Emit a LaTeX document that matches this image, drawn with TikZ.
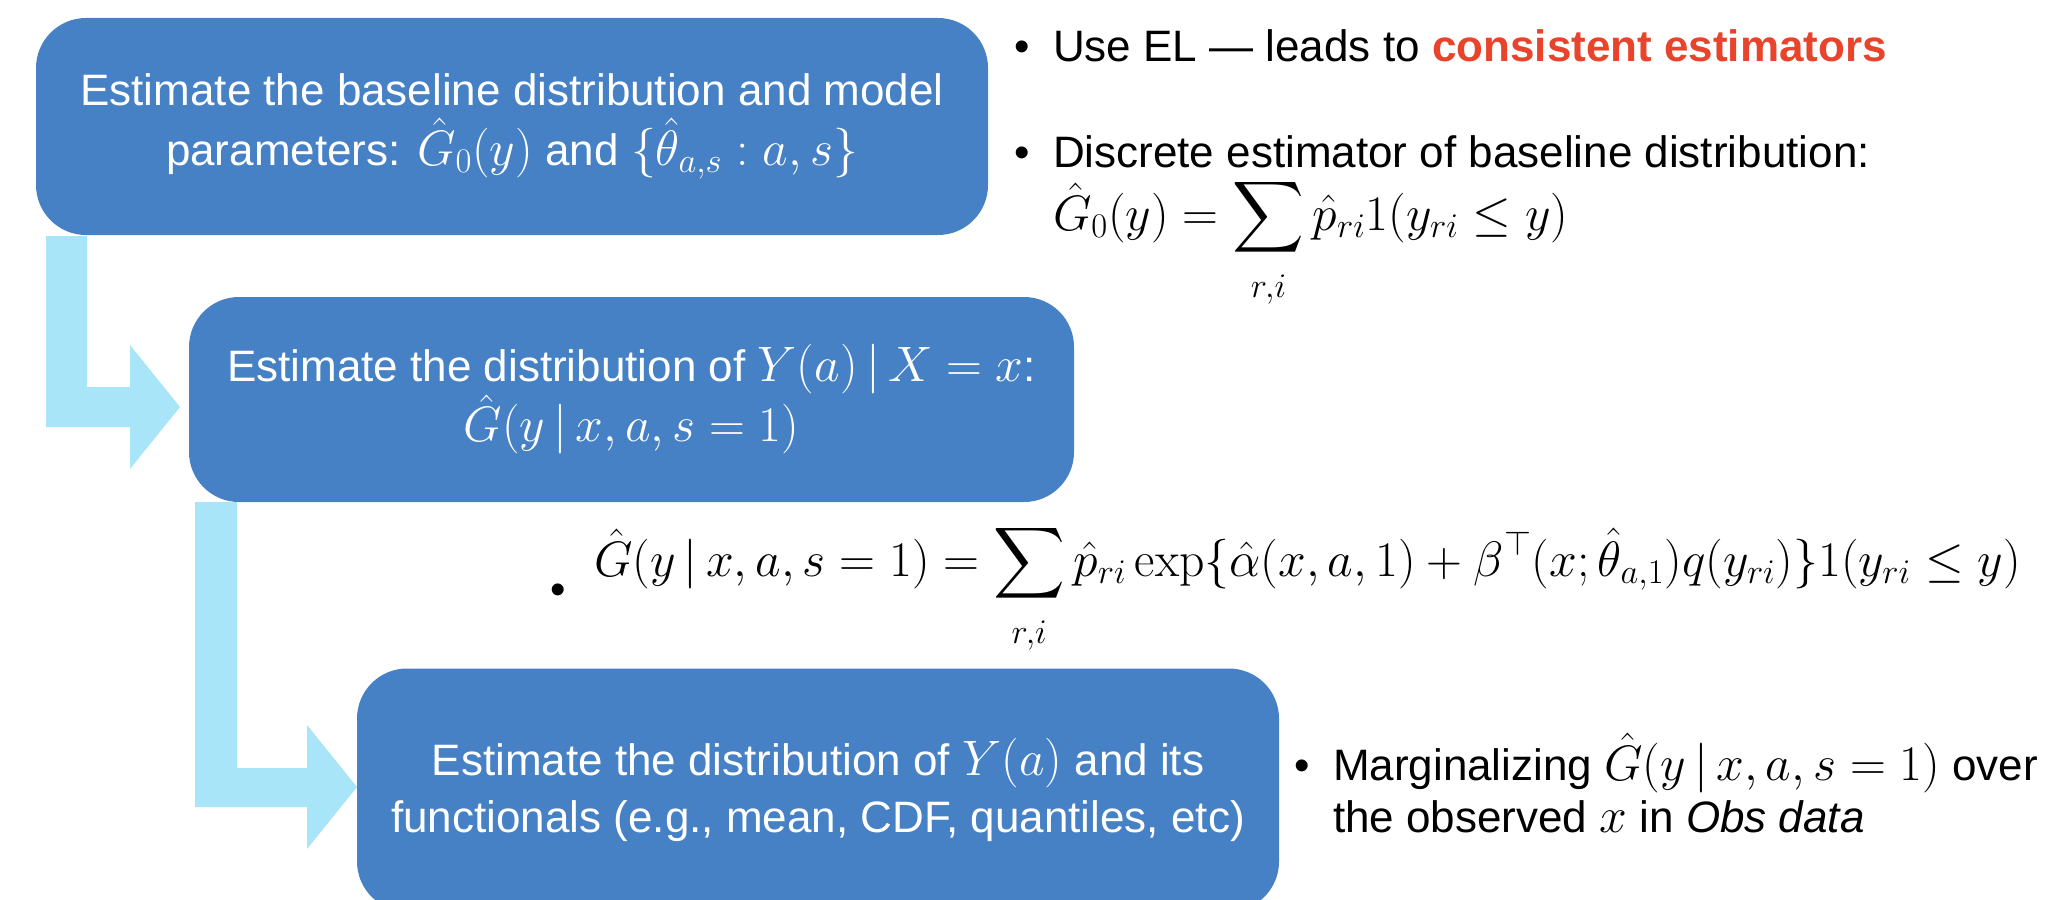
\documentclass[tikz,border=0pt]{standalone}
\usepackage{amsmath}
\usepackage{exscale}
\usepackage[no-math]{fontspec}
\setmainfont{Liberation Sans}
\definecolor{boxblue}{RGB}{70,128,197}
\definecolor{flowcyan}{RGB}{169,229,248}
\definecolor{hired}{RGB}{232,68,43}
\newcommand{\bmth}[1]{{\fontsize{25}{30}\selectfont$#1$}}
\newcommand{\lowlim}{\rule{0pt}{16pt}}
\tikzset{
  stepbox/.style={fill=boxblue, draw=none, rounded corners=25pt, text=white, align=center,
    inner sep=0pt, font=\fontsize{22}{30}\selectfont},
  plain/.style={inner sep=0pt, outer sep=0pt, anchor=base west, text=black, font=\fontsize{22}{26}\selectfont},
  bul/.style={inner sep=0pt, outer sep=0pt, anchor=base, text=black, font=\fontsize{22}{26}\selectfont},
  flow/.style={fill=flowcyan, draw=none},
  mathf/.style={inner sep=0pt, outer sep=0pt, anchor=base west, text=black, font=\fontsize{25}{30}\selectfont}
}
\begin{document}
\begin{tikzpicture}[x=0.5pt,y=-0.5pt]
\useasboundingbox (0,0) rectangle (2048,899);
\clip (0,0) rectangle (2048,899);

% flow arrows
\fill[flow] (46,236) -- (87,236) -- (87,387) -- (130,387) -- (130,345) -- (180,407)
  -- (130,469) -- (130,427) -- (46,427) -- cycle;
\fill[flow] (195,502) -- (237,502) -- (237,768) -- (307,768) -- (307,725) -- (357,787)
  -- (307,849) -- (307,807) -- (195,807) -- cycle;

% boxes
\node[stepbox, minimum width=476pt, minimum height=108.5pt] (b1) at (512,126.5)
  {Estimate the baseline distribution and model\\
   parameters: \bmth{\hat{G}_0(y)} and \bmth{\{\hat{\theta}_{a,s} : a, s\}}};
\node[stepbox, minimum width=442.5pt, minimum height=102.5pt] (b2) at (631.5,399.5)
  {Estimate the distribution of \bmth{Y(a)\,|\,X = x}:\\
   \bmth{\hat{G}(y\,|\,x, a, s = 1)}};
\node[stepbox, minimum width=461pt, minimum height=121.5pt,
      font=\fontsize{22}{28.5}\selectfont] (b3) at (818,790)
  {Estimate the distribution of \bmth{Y(a)} and its\\
   functionals (e.g., mean, CDF, quantiles, etc)};

% right-hand notes for box 1
\node[bul] (u1) at (1022,62) {•};
\node[plain] (t1) at (1053,62) {Use EL — leads to \textcolor{hired}{\textbf{consistent estimators}}};
\node[bul] (u2) at (1022,167) {•};
\node[plain] (t2) at (1053,167) {Discrete estimator of baseline distribution:};
\node[mathf] (f1) at (1053,230)
  {$\displaystyle \hat{G}_0(y) = \sum_{\lowlim r,i} \hat{p}_{ri} 1(y_{ri} \le y)$};

% formula for box 2
\node[inner sep=0pt, text=black, font=\fontsize{22}{26}\selectfont] (u3) at (558,594) {•};
\node[mathf] (f2) at (594,576)
  {$\displaystyle \hat{G}(y\,|\,x, a, s = 1) = \sum_{\lowlim r,i} \hat{p}_{ri}
   \exp\{\hat{\alpha}(x, a, 1) + \beta^{\top}(x; \hat{\theta}_{a,1}) q(y_{ri})\} 1(y_{ri} \le y)$};

% right-hand notes for box 3
\node[bul] (u4) at (1302,780) {•};
\node[plain] (t3) at (1333,780) {Marginalizing \bmth{\hat{G}(y\,|\,x, a, s = 1)} over};
\node[plain] (t4) at (1333,832) {the observed \bmth{x} in \textit{Obs data}};
\end{tikzpicture}
\end{document}
